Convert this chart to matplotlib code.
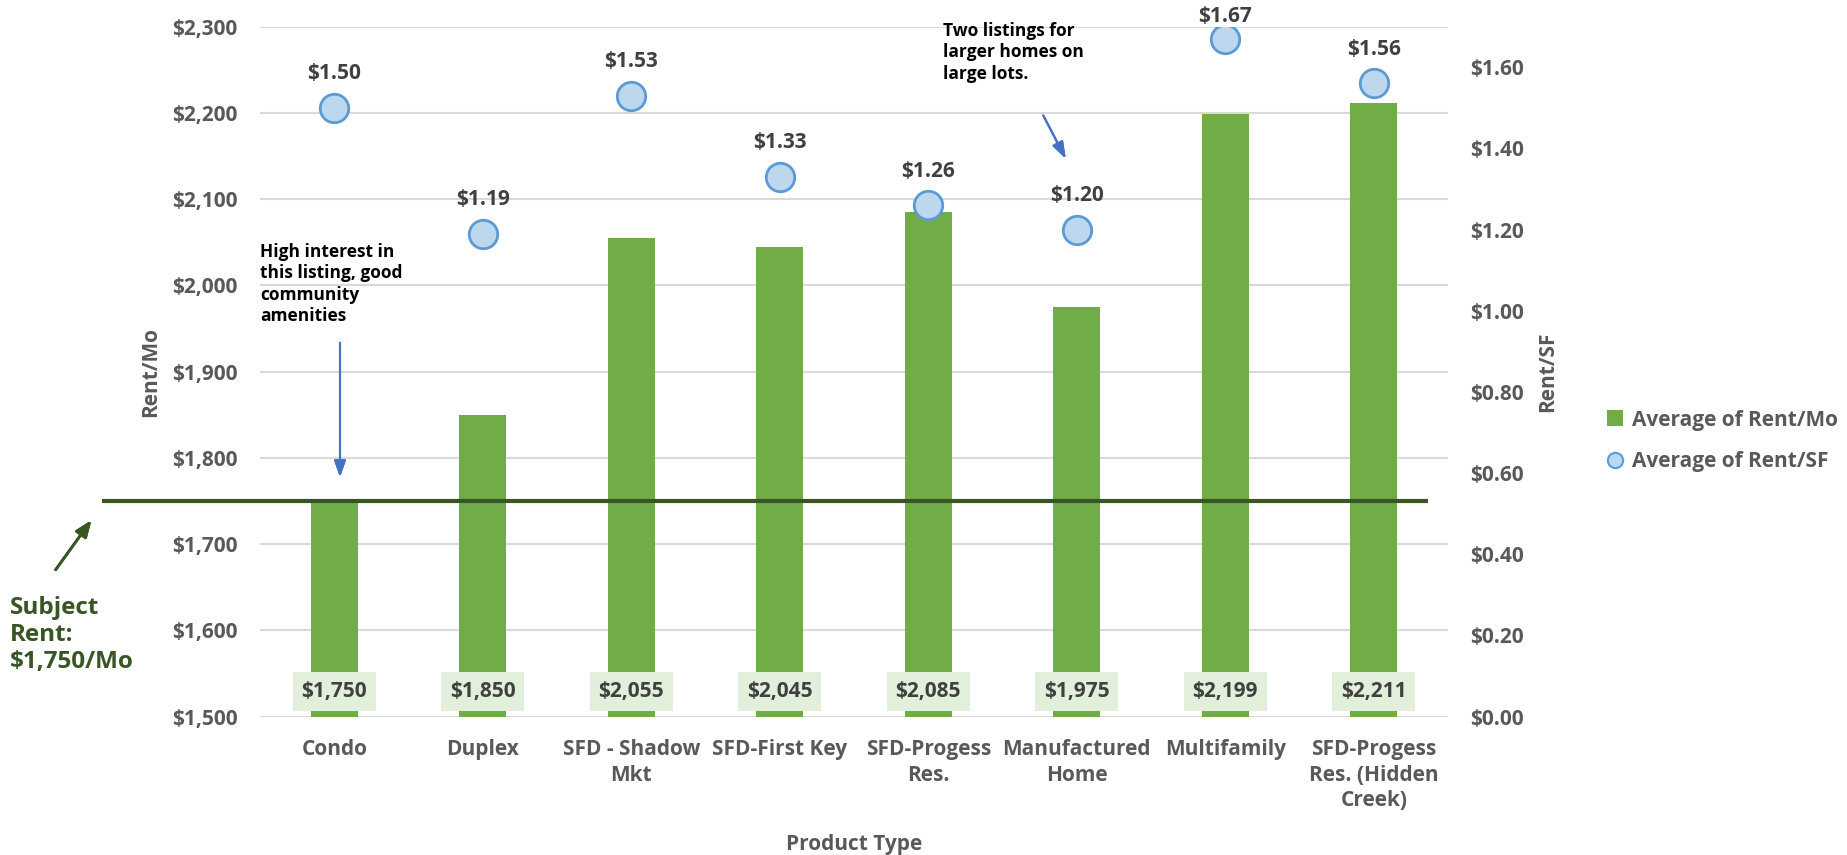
import matplotlib
matplotlib.use('Agg')
import matplotlib.pyplot as plt
from matplotlib.lines import Line2D
from matplotlib.patches import Patch

plt.rcParams['font.family'] = ['Open Sans', 'DejaVu Sans']
plt.rcParams['font.weight'] = 'bold'

categories = ['Condo', 'Duplex', 'SFD - Shadow\nMkt', 'SFD-First Key', 'SFD-Progess\nRes.',
              'Manufactured\nHome', 'Multifamily', 'SFD-Progess\nRes. (Hidden\nCreek)']
rent_mo = [1750, 1850, 2055, 2045, 2085, 1975, 2199, 2211]
rent_sf = [1.50, 1.19, 1.53, 1.33, 1.26, 1.20, 1.67, 1.56]
subject_rent = 1750

GREEN = '#70AD47'
DARK = '#375623'
GREY = '#595959'
FS = 15

fig = plt.figure(figsize=(18.47, 8.55), dpi=100)
ax = fig.add_axes([0.1408, 0.1618, 0.6432, 0.807])
x = list(range(len(categories)))

ax.bar(x, rent_mo, width=0.316, color=GREEN, zorder=2)
ax.set_ylim(1500, 2300)
ax.set_xlim(-0.5, len(categories) - 0.5)
ax.set_yticks(range(1500, 2301, 100))
ax.set_yticklabels(['${:,}'.format(v) for v in range(1500, 2301, 100)])
ax.grid(axis='y', color='#D9D9D9', linewidth=1.5, zorder=0)
ax.set_axisbelow(True)
for s in ax.spines.values():
    s.set_visible(False)
ax.tick_params(axis='y', length=0, labelsize=FS, labelcolor=GREY, pad=16)
ax.tick_params(axis='x', length=0, labelsize=FS, labelcolor=GREY, pad=16)
ax.set_xticks(x)
ax.set_xticklabels(categories, fontsize=FS, color=GREY, linespacing=1.3, va='top')
ax.set_ylabel('Rent/Mo', fontsize=FS, color=GREY, fontweight='bold', labelpad=8)
ax.set_xlabel('Product Type', fontsize=FS, color=GREY, fontweight='bold', labelpad=16)

# bar value labels at bottom
for i, v in enumerate(rent_mo):
    ax.annotate('${:,}'.format(v), xy=(i, 1500), xytext=(0, 25), textcoords='offset pixels',
                ha='center', va='center', fontsize=FS, color='#404040', fontweight='bold',
                bbox=dict(boxstyle='square,pad=0.42', fc='#E2EFDA', ec='none'), zorder=4)

# subject rent line
ax.hlines(subject_rent, -1.564, 7.365, color=DARK, linewidth=3, clip_on=False, zorder=3)

ax2 = ax.twinx()
ax2.set_ylim(0, 1.7)
sf_ticks = [0, 0.2, 0.4, 0.6, 0.8, 1.0, 1.2, 1.4, 1.6]
ax2.set_yticks(sf_ticks)
ax2.set_yticklabels(['${:.2f}'.format(v) for v in sf_ticks])
ax2.tick_params(axis='y', length=0, labelsize=FS, labelcolor=GREY, pad=16)
for s in ax2.spines.values():
    s.set_visible(False)
ax2.set_ylabel('Rent/SF', fontsize=FS, color=GREY, fontweight='bold', labelpad=9)
ax2.scatter(x, rent_sf, s=420, facecolor='#BDD7EE', edgecolor='#5B9BD5', linewidth=2, zorder=5)

# point labels, kept inside the top edge
fig_h = fig.get_size_inches()[1] * fig.dpi
for i, v in enumerate(rent_sf):
    py = ax2.transData.transform((i, v))[1]
    off = min(34, fig_h - 17 - py)
    ax2.annotate('${:.2f}'.format(v), xy=(i, v), xytext=(0, off), textcoords='offset pixels',
                 ha='center', va='center', fontsize=FS, color='#404040', fontweight='bold')

# annotations
fig.text(260 / 1847, 1 - 243 / 855, 'High interest in\nthis listing, good\ncommunity\namenities',
         fontsize=12.5, color='black', fontweight='bold', va='top', ha='left', linespacing=1.24)
fig.add_artist(plt.annotate('', xy=(340 / 1847, 1 - 480 / 855), xytext=(340 / 1847, 1 - 340 / 855),
                            xycoords='figure fraction', textcoords='figure fraction',
                            arrowprops=dict(arrowstyle='-|>,head_width=0.35,head_length=1.0',
                                            color='#4472C4', lw=1.5)))
fig.text(943 / 1847, 1 - 22 / 855, 'Two listings for\nlarger homes on\nlarge lots.',
         fontsize=12.5, color='black', fontweight='bold', va='top', ha='left', linespacing=1.24)
fig.add_artist(plt.annotate('', xy=(1067 / 1847, 1 - 161 / 855), xytext=(1042 / 1847, 1 - 113 / 855),
                            xycoords='figure fraction', textcoords='figure fraction',
                            arrowprops=dict(arrowstyle='-|>,head_width=0.35,head_length=1.0',
                                            color='#4472C4', lw=1.5)))
fig.text(10 / 1847, 1 - 596 / 855, 'Subject\nRent:\n$1,750/Mo', fontsize=17.5, color=DARK,
         fontweight='bold', va='top', ha='left', linespacing=1.18)
fig.add_artist(plt.annotate('', xy=(93 / 1847, 1 - 518 / 855), xytext=(54 / 1847, 1 - 572 / 855),
                            xycoords='figure fraction', textcoords='figure fraction',
                            arrowprops=dict(arrowstyle='-|>,head_width=0.4,head_length=1.0',
                                            color=DARK, lw=2)))

handles = [Patch(facecolor=GREEN, edgecolor='none', label='Average of Rent/Mo'),
           Line2D([], [], marker='o', linestyle='none', markersize=11, markerfacecolor='#BDD7EE',
                  markeredgecolor='#5B9BD5', markeredgewidth=1.5, label='Average of Rent/SF')]
fig.legend(handles=handles, loc='center left', bbox_to_anchor=(1588 / 1847, 1 - 441 / 855),
           frameon=False, fontsize=FS, labelcolor=GREY, handlelength=0.8, handleheight=0.8,
           handletextpad=0.4, labelspacing=1.0)

fig.savefig('out.png', dpi=100)
